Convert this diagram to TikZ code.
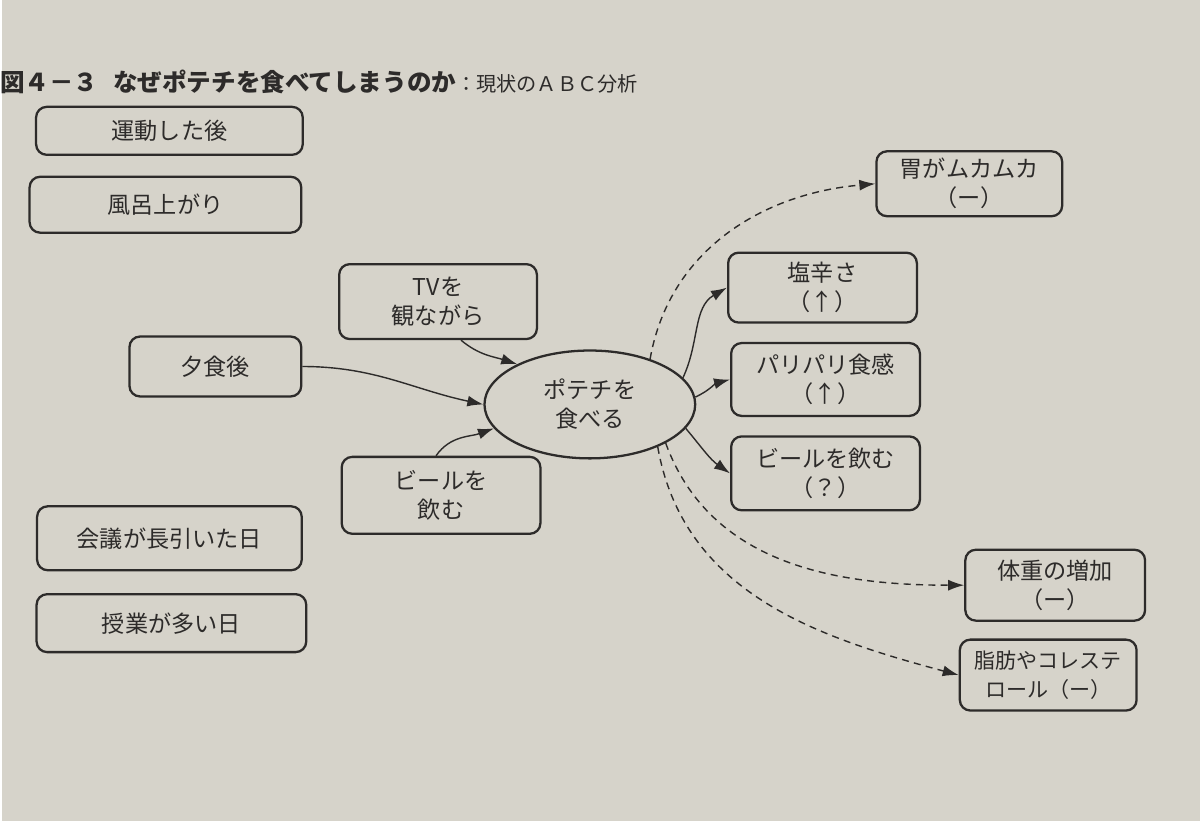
\documentclass[tikz,border=0pt]{standalone}
\usepackage{fontspec}
\setmainfont{Noto Sans CJK JP}
\usetikzlibrary{shapes.geometric, arrows.meta}
\tikzset{>={Latex[length=3.2mm, width=2.2mm]}}
\definecolor{paper}{RGB}{214,211,202}
\definecolor{ink}{RGB}{45,43,42}
\tikzset{
    abox/.style={draw=ink, line width=1.3pt, rounded corners=6pt, align=center,
        text=ink, font=\fontsize{13.2}{16.5}\selectfont, inner sep=0pt},
    con/.style={->, ink, line width=0.8pt},
    dcon/.style={con, dash pattern=on 4pt off 3pt}
}

\begin{document}
\begin{tikzpicture}[x=0.2mm, y=-0.2mm]
    \fill[paper](0, 0)rectangle(1200, 822);
    \node[anchor=west, text=ink, font=\fontsize{14}{15}\selectfont, inner sep=0pt](title)at(-2, 82)
        {{\bfseries\textit{図４－３}\hspace{3mm}なぜポテチを食べてしまうのか}{\fontsize{11.5}{13}\selectfont ：現状のＡＢＣ分析}};
    % antecedents
    \node[abox, minimum width=267*0.2mm, minimum height=48*0.2mm](undo)at(168, 131){運動した後};
    \node[abox, minimum width=272*0.2mm, minimum height=56*0.2mm](furo)at(164, 205){風呂上がり};
    \node[abox, minimum width=198*0.2mm, minimum height=75*0.2mm](tv)at(437, 302){TVを\\観ながら};
    \node[abox, minimum width=172*0.2mm, minimum height=60*0.2mm](yuu)at(214, 367){夕食後};
    \node[abox, minimum width=199*0.2mm, minimum height=77*0.2mm](beerA)at(440, 496){ビールを\\飲む};
    \node[abox, minimum width=265*0.2mm, minimum height=64*0.2mm](kaigi)at(168, 539){会議が長引いた日};
    \node[abox, minimum width=270*0.2mm, minimum height=58*0.2mm](jugyo)at(170, 624){授業が多い日};
    % behaviour
    \node[ellipse, draw=ink, line width=1.3pt, align=center, text=ink, inner sep=0pt,
        font=\fontsize{13.2}{16.5}\selectfont, minimum width=211*0.2mm, minimum height=108*0.2mm](pote)at(589, 405){ポテチを\\食べる};
    % consequences
    \node[abox, minimum width=186*0.2mm, minimum height=65*0.2mm](ibu)at(969, 184){胃がムカムカ\\（ー）};
    \node[abox, minimum width=189*0.2mm, minimum height=70*0.2mm](shio)at(822, 288){塩辛さ\\（↑）};
    \node[abox, minimum width=189*0.2mm, minimum height=73*0.2mm](pari)at(825, 380){パリパリ食感\\（↑）};
    \node[abox, minimum width=189*0.2mm, minimum height=74*0.2mm](beerC)at(825, 474){ビールを飲む\\（？）};
    \node[abox, minimum width=180*0.2mm, minimum height=71*0.2mm](taiju)at(1055, 586){体重の増加\\（ー）};
    \node[abox, font=\fontsize{12}{16.5}\selectfont, minimum width=177*0.2mm, minimum height=71*0.2mm](shibo)at(1048, 676){脂肪やコレステ\\ロール（ー）};
    % arrows in
    \draw[con]([xshift=4.6mm]tv.south) to[out=-40, in=162] (pote.151);
    \draw[con](yuu.east) to[out=0, in=168] (pote.west);
    \draw[con]([xshift=-1mm]beerA.north) to[out=55, in=200] (pote.194);
    % arrows out
    \draw[con](pote.16) to[out=65, in=210] (shio.west);
    \draw[con](pote.4) to[out=25, in=195] (pari.west);
    \draw[con](pote.-14) to[out=-50, in=145] (beerC.west);
    \draw[dcon](pote.37) to[out=80, in=185] (ibu.west);
    \draw[dcon](pote.-27) to[out=-70, in=180] (taiju.west);
    \draw[dcon](pote.-32) to[out=-80, in=165] (shibo.west);
\end{tikzpicture}
\end{document}
